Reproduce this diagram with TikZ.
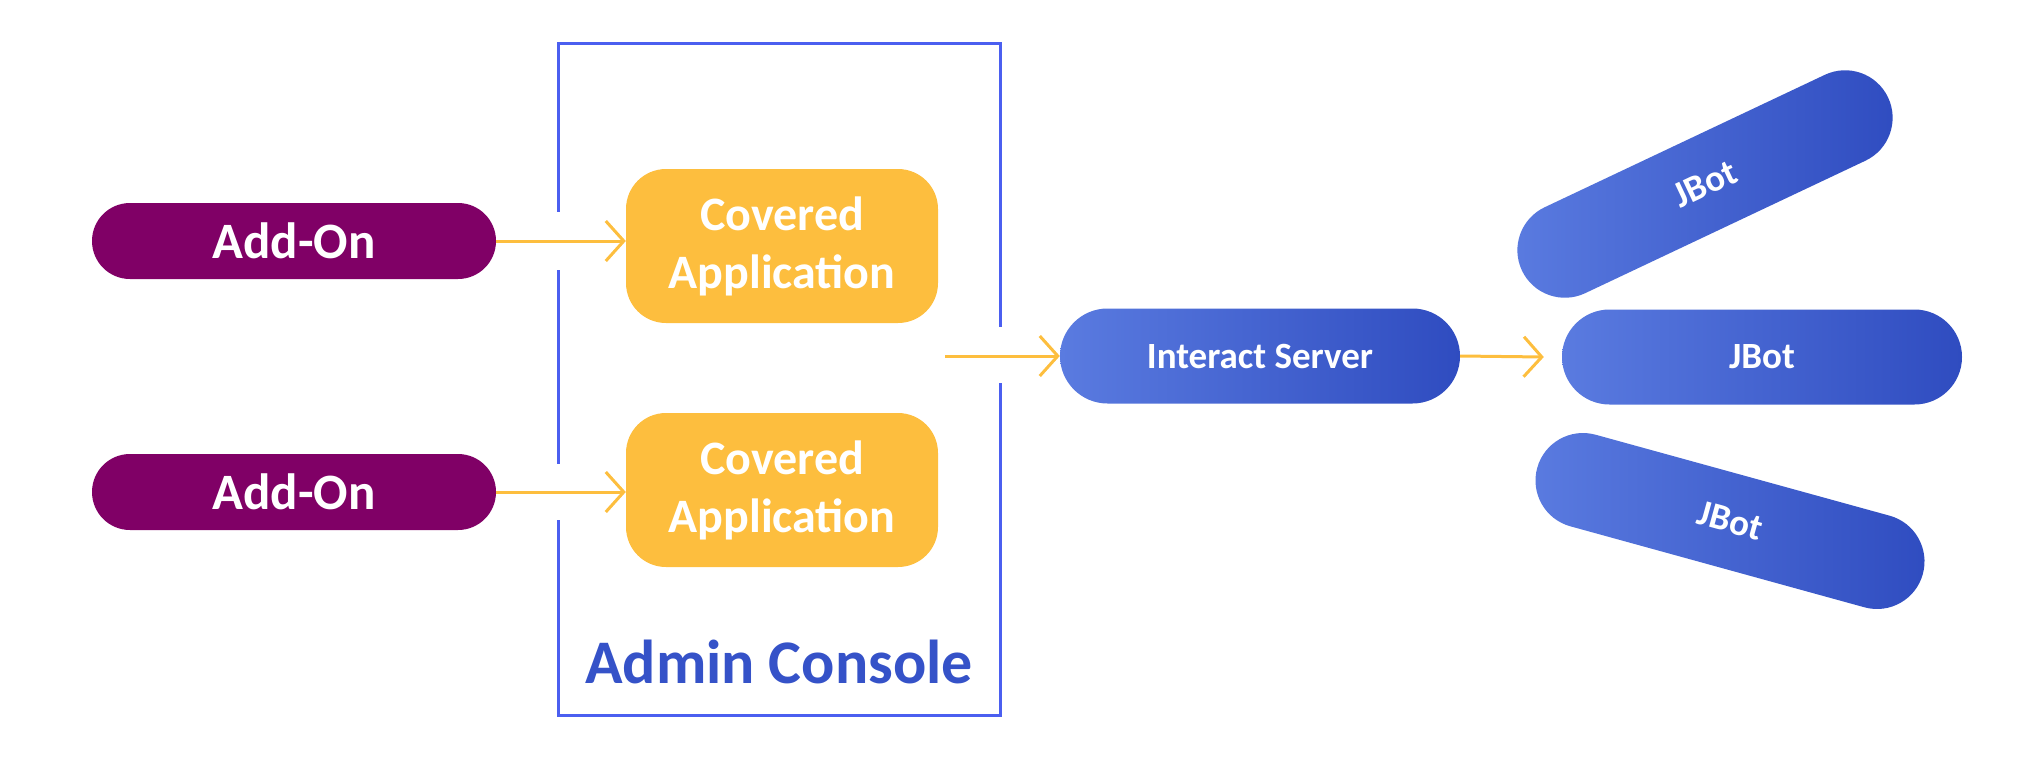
\documentclass[tikz,border=0pt]{standalone}
\usepackage{fontspec}
\setmainfont{Carlito}
\usetikzlibrary{shapes.misc,arrows.meta}
\definecolor{addon}{HTML}{800066}
\definecolor{cov}{HTML}{FDBE3E}
\definecolor{boxb}{HTML}{4B5FF0}
\definecolor{adm}{HTML}{3552C8}
\definecolor{bl}{HTML}{5A7BE0}
\definecolor{bd}{HTML}{2F4CC0}
\tikzset{
 pill/.style={rounded rectangle, inner sep=0pt, text=white, font=\bfseries\fontsize{#1}{#1}\selectfont},
 addon/.style={pill=51, fill=addon, minimum width=404pt, minimum height=76pt},
 cov/.style={rounded corners=40pt, fill=cov, inner sep=0pt, minimum width=312pt, minimum height=154pt, text=white, align=center, font=\bfseries\fontsize{48}{58}\selectfont},
 blue/.style={pill=37, left color=bl, right color=bd, minimum width=400pt, minimum height=95pt},
 arr/.style={draw=cov, line width=3pt, -{Straight Barb[length=18pt,width=40pt,line width=3pt]}},
 gap/.style={fill=white, draw=none}
}
\begin{document}
\begin{tikzpicture}[x=1pt,y=-1pt]
\useasboundingbox (0,0) rectangle (2040,774);
\draw[boxb, line width=3pt] (558,43) rectangle (1000,715);
\fill[gap] (550,212) rectangle (566,270);
\fill[gap] (550,464) rectangle (566,520);
\fill[gap] (992,327) rectangle (1008,383);
\node[font=\bfseries\fontsize{62}{62}\selectfont, text=adm] (ac) at (779,662) {Admin Console};
\node[addon] (a1) at (294,241) {Add-On};
\node[addon] (a2) at (294,492) {Add-On};
\node[cov] (c1) at (782,246) {Covered\\Application};
\node[cov] (c2) at (782,490) {Covered\\Application};
\node[blue] (is) at (1260,356) {Interact Server};
\node[blue] (j2) at (1762,357) {JBot};
\node[blue, minimum width=405pt, rotate=25.3] (j1) at (1705,184) {JBot};
\node[blue, minimum width=400pt, rotate=-15.4] (j3) at (1730,521) {JBot};
\draw[arr] (a1.east) -- (c1.west |- a1.east);
\draw[arr] (a2.east) -- (c2.west |- a2.east);
\coordinate (m) at (945,356);
\draw[arr] (m) -- (is.west);
\draw[arr] (is.east) -- ([xshift=-18pt]j2.west);
\end{tikzpicture}
\end{document}
